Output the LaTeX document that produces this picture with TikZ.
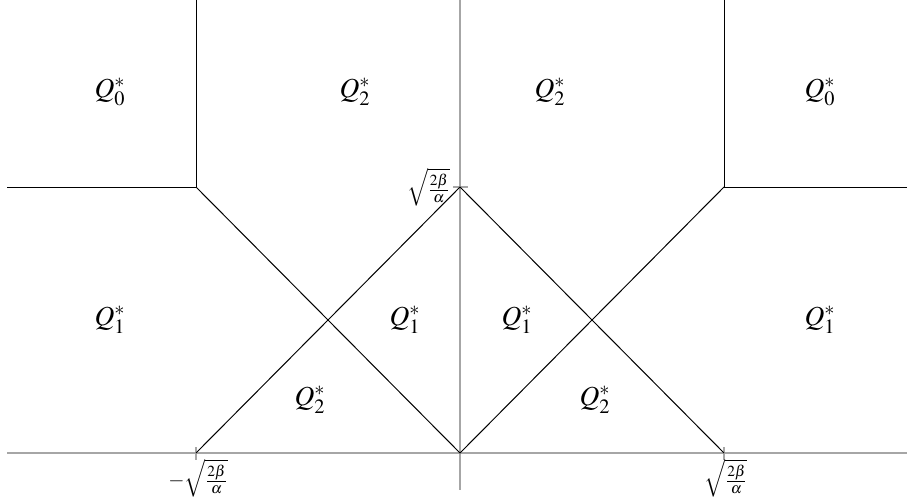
\documentclass[tikz,border=0pt]{standalone}
\usepackage{amsmath}
\usepackage{mathptmx}
\begin{document}
\begin{tikzpicture}[x=0.6pt,y=-0.6pt,
  axis/.style={draw=black!35,line width=0.9pt},
  bd/.style={draw=black,line width=0.6pt},
  reg/.style={font=\fontsize{16.5}{19}\selectfont},
  tk/.style={font=\fontsize{12.5}{15}\selectfont}]
\useasboundingbox (0,0) rectangle (907,501);
% key points
\coordinate (O) at (460,453);
\coordinate (T) at (460,187);
\coordinate (L) at (196,453);
\coordinate (R) at (724,453);
\coordinate (UL) at (196,187);
\coordinate (UR) at (724,187);
% axes
\draw[axis] (7,453) -- (907,453);
\draw[axis] (460,0) -- (460,490);
\draw[axis] (453,187) -- (468,187);
\draw[axis] (196,447) -- (196,460);
\draw[axis] (724,447) -- (724,460);
% boundaries
\draw[bd] (7,187) -- (UL) -- (196,0);
\draw[bd] (907,187) -- (UR) -- (724,0);
\draw[bd] (UL) -- (O) -- (UR);
\draw[bd] (L) -- (T) -- (R);
% tick labels
\node[tk,anchor=east,inner sep=1pt] (tl) at (452,187) {$\sqrt{\tfrac{2\beta}{\alpha}}$};
\node[tk] (ll) at (198,478) {$-\sqrt{\tfrac{2\beta}{\alpha}}$};
\node[tk] (rl) at (726,478) {$\sqrt{\tfrac{2\beta}{\alpha}}$};
% region labels
\node[reg] (a1) at (110,92) {$Q_0^*$};
\node[reg] (a2) at (355,92) {$Q_2^*$};
\node[reg] (a3) at (550,92) {$Q_2^*$};
\node[reg] (a4) at (820,92) {$Q_0^*$};
\node[reg] (b1) at (110,320) {$Q_1^*$};
\node[reg] (b2) at (405,320) {$Q_1^*$};
\node[reg] (b3) at (517,320) {$Q_1^*$};
\node[reg] (b4) at (820,320) {$Q_1^*$};
\node[reg] (c1) at (310,400) {$Q_2^*$};
\node[reg] (c2) at (595,400) {$Q_2^*$};
\end{tikzpicture}
\end{document}
